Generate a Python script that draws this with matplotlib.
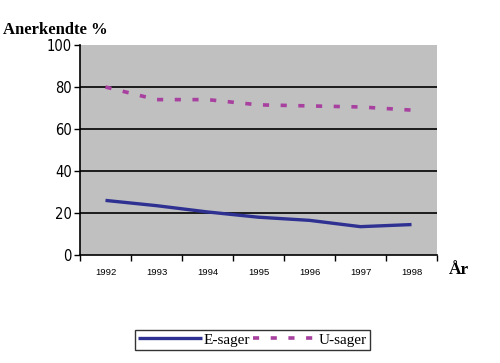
import matplotlib
matplotlib.use('Agg')
import matplotlib.pyplot as plt
import numpy as np

years = ['1992', '1993', '1994', '1995', '1996', '1997', '1998']
e_sager = [26, 23.5, 20.5, 18, 16.5, 13.5, 14.5]
u_sager = [80, 74, 74, 71.5, 71, 70.5, 69]

fig = plt.figure(figsize=(5, 3.63), dpi=100)
ax = fig.add_axes([0.16, 0.2975, 0.714, 0.5785])
ax.set_facecolor('#C0C0C0')

ind = np.arange(len(years))
ax.plot(ind, e_sager, color='#2E3192', lw=2.4, solid_capstyle='butt', label='E-sager')
ax.plot(ind, u_sager, color='#A8409F', lw=2.6, linestyle=(0, (1.7, 3.2)),
        dash_capstyle='butt', label='U-sager')

# horizontal grid
for y in [20, 40, 60, 80]:
    ax.axhline(y, color='black', lw=1.2, zorder=1)

ax.set_xlim(-0.5, len(years) - 0.5)
ax.set_ylim(0, 100)
ax.set_yticks([0, 20, 40, 60, 80, 100])
ax.set_yticklabels(['0', '20', '40', '60', '80', '100'], family='DejaVu Sans',
                   fontstretch='condensed', fontsize=10.5)
ax.set_xticks(ind)
ax.set_xticklabels(years, fontsize=6.8, family='Liberation Sans')
ax.set_xticks(np.arange(-0.5, len(years)), minor=True)
ax.tick_params(axis='x', which='major', length=0, pad=9)
ax.tick_params(axis='x', which='minor', length=4, direction='out', width=1)
ax.tick_params(axis='y', length=4, direction='out', width=1, pad=2)

for s in ['top', 'right']:
    ax.spines[s].set_visible(False)
ax.spines['left'].set_linewidth(1.2)
ax.spines['bottom'].set_linewidth(1.2)

fig.text(0.006, 0.905, 'Anerkendte %', fontsize=12, fontweight='bold', family='Liberation Serif')
fig.text(0.898, 0.245, 'År', fontsize=12.5, fontweight='bold', family='Liberation Serif')

leg = fig.legend(loc='center', bbox_to_anchor=(0.505, 0.064), ncol=2, frameon=True,
                 prop={'family': 'Liberation Serif', 'size': 11}, handlelength=4.2,
                 columnspacing=0.2, handletextpad=0.1, borderpad=0.2, fancybox=False)
leg.get_frame().set_edgecolor('black')
leg.get_frame().set_linewidth(1.0)

fig.savefig('out.png', dpi=100)
